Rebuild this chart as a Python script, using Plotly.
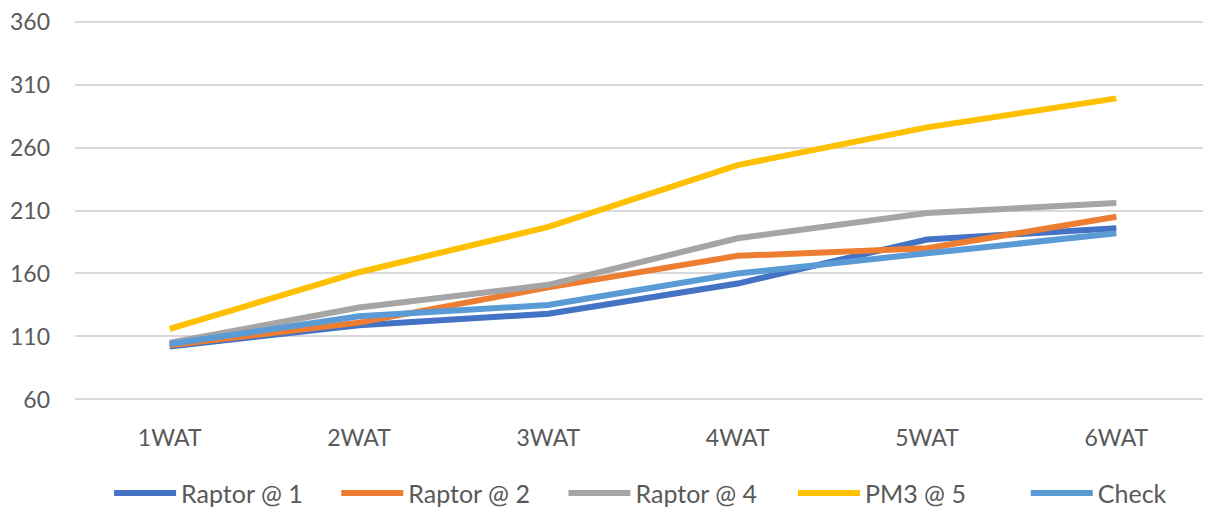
import plotly.graph_objects as go

categories = ["1WAT", "2WAT", "3WAT", "4WAT", "5WAT", "6WAT"]
raptor_1 = [102, 119, 128, 152, 187, 196]
raptor_2 = [103, 121, 149, 174, 180, 205]
raptor_4 = [105, 133, 151, 188, 208, 216]
pm3_5 = [116, 161, 197, 246, 276, 299]
check = [104, 126, 135, 160, 176, 192]
y_ticks = [60, 110, 160, 210, 260, 310, 360]

series = [
    ("Raptor @ 1", raptor_1, "#4472C4"),
    ("Raptor @ 2", raptor_2, "#ED7D31"),
    ("Raptor @ 4", raptor_4, "#A5A5A5"),
    ("PM3 @ 5", pm3_5, "#FFC000"),
    ("Check", check, "#5B9BD5"),
]
legend_x = [0.030, 0.230, 0.430, 0.632, 0.837]

font_family = "Lato, Carlito, Arial"

fig = go.Figure()
legend_layout = {}
for i, (name, vals, color) in enumerate(series):
    key = "legend" if i == 0 else f"legend{i + 1}"
    fig.add_trace(go.Scatter(
        x=categories, y=vals, name=name, mode="lines",
        line=dict(color=color, width=6), legend=key,
    ))
    legend_layout[key] = dict(
        orientation="h", x=legend_x[i], xanchor="left", y=-0.238, yanchor="middle",
        font=dict(size=25, color="#595959"), itemwidth=62,
        bgcolor="rgba(0,0,0,0)",
    )

fig.update_layout(
    width=1211, height=511,
    margin=dict(l=67, r=8, t=11, b=117, autoexpand=False),
    paper_bgcolor="white", plot_bgcolor="white",
    font=dict(family=font_family, size=22, color="#595959"),
    showlegend=True,
    xaxis=dict(type="category", range=[-0.5, 5.5], showgrid=False, zeroline=False,
               showline=False, ticks="", automargin=False, ticklabelstandoff=20,
               tickfont=dict(size=23, color="#595959")),
    yaxis=dict(range=[58, 362], tickvals=y_ticks, showgrid=True, gridcolor="#D9D9D9",
               gridwidth=1.5, zeroline=False, showline=False, ticks="", automargin=False,
               ticklabelstandoff=24, ticklabeloverflow="allow",
               tickfont=dict(size=23, color="#595959")),
    **legend_layout,
)

fig.write_html("out.html")
